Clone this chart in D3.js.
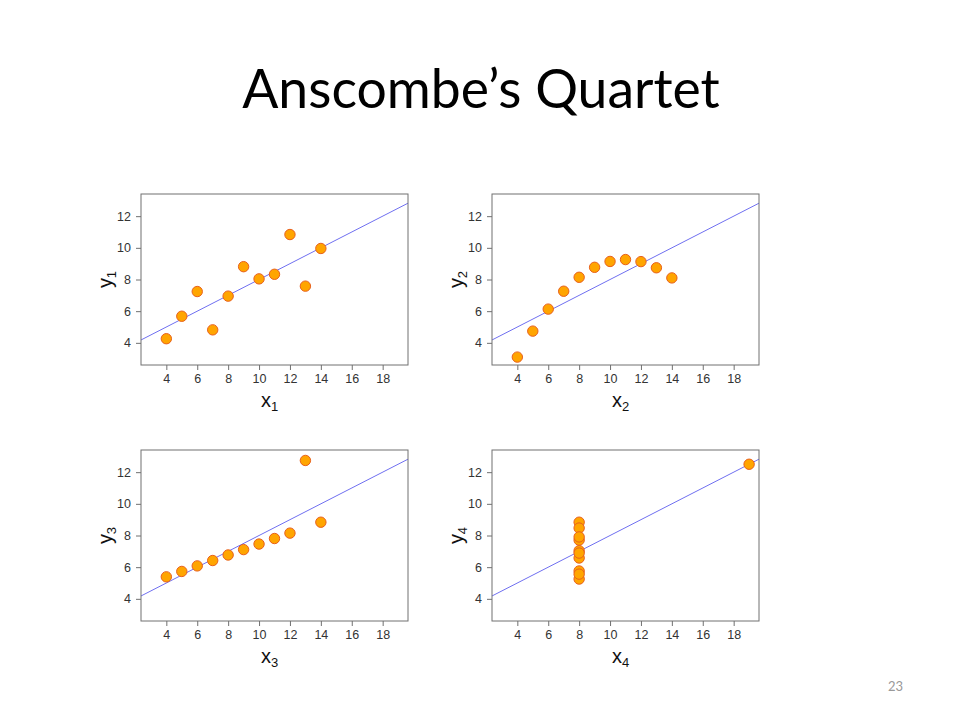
<!DOCTYPE html>
<html><head><meta charset="utf-8">
<script src="https://cdn.jsdelivr.net/npm/d3@7"></script>
<style>body{margin:0;background:#fff;} svg{display:block;}</style>
</head><body>
<script>
const xs123 = [10, 8, 13, 9, 11, 14, 6, 4, 12, 7, 5];
const x4 = [8, 8, 8, 8, 8, 8, 8, 19, 8, 8, 8];
const y1 = [8.04, 6.95, 7.58, 8.81, 8.33, 9.96, 7.24, 4.26, 10.84, 4.82, 5.68];
const y2 = [9.14, 8.14, 8.74, 8.77, 9.26, 8.10, 6.13, 3.10, 9.13, 7.26, 4.74];
const y3 = [7.46, 6.77, 12.74, 7.11, 7.81, 8.84, 6.08, 5.39, 8.15, 6.42, 5.73];
const y4 = [6.58, 5.76, 7.71, 8.84, 8.47, 7.04, 5.25, 12.50, 5.56, 7.91, 6.89];
const fitIntercepts = [3.0, 3.0, 3.0, 3.0];
const fitSlopes = [0.5, 0.5, 0.5, 0.5];
const xTicks = [4, 6, 8, 10, 12, 14, 16, 18];
const yTicks = [4, 6, 8, 10, 12];
const panelSubs = ["1", "2", "3", "4"];
const title = "Anscombe’s Quartet";
const pageNumber = "23";

const W = 960, H = 720;
const svg = d3.select("body").append("svg").attr("width", W).attr("height", H);

svg.append("text").attr("x", 481).attr("y", 108).attr("text-anchor", "middle")
  .attr("font-family", "Lato, 'Open Sans', sans-serif").attr("font-size", 53.5)
  .attr("fill", "#000").text(title);
svg.append("text").attr("x", 903).attr("y", 691).attr("text-anchor", "end")
  .attr("font-family", "Lato, 'Open Sans', sans-serif").attr("font-size", 13)
  .attr("fill", "#999").text(pageNumber);

const panels = [
  {xs: xs123, ys: y1, left: 141, top: 194},
  {xs: xs123, ys: y2, left: 492, top: 194},
  {xs: xs123, ys: y3, left: 141, top: 450},
  {xs: x4, ys: y4, left: 492, top: 450}
];
const pw = 267, ph = 171;
const xDom = [3 - 0.64, 19 + 0.64];
const yDom = [3 - 0.4, 13 + 0.4];

panels.forEach((p, i) => {
  const g = svg.append("g").attr("transform", `translate(${p.left},${p.top})`);
  const x = d3.scaleLinear().domain(xDom).range([0, pw]);
  const y = d3.scaleLinear().domain(yDom).range([ph, 0]);
  const clipId = "clip" + i;
  g.append("clipPath").attr("id", clipId).append("rect").attr("width", pw).attr("height", ph);

  // regression line
  const a = fitIntercepts[i], b = fitSlopes[i];
  g.append("line").attr("clip-path", `url(#${clipId})`)
    .attr("x1", x(xDom[0])).attr("y1", y(a + b * xDom[0]))
    .attr("x2", x(xDom[1])).attr("y2", y(a + b * xDom[1]))
    .attr("stroke", "#6f6ff0").attr("stroke-width", 1);

  // points
  g.selectAll("circle").data(p.xs.map((v, k) => [v, p.ys[k]])).join("circle")
    .attr("cx", d => x(d[0])).attr("cy", d => y(d[1])).attr("r", 5.2)
    .attr("fill", "#ffa500").attr("stroke", "#e8601c").attr("stroke-width", 1);

  // box
  g.append("rect").attr("width", pw).attr("height", ph)
    .attr("fill", "none").attr("stroke", "#707070").attr("stroke-width", 1);

  const xa = g.append("g").attr("transform", `translate(0,${ph})`)
    .call(d3.axisBottom(x).tickValues(xTicks).tickSize(5).tickPadding(4).tickSizeOuter(0));
  const ya = g.append("g")
    .call(d3.axisLeft(y).tickValues(yTicks).tickSize(5).tickPadding(5).tickSizeOuter(0));
  [xa, ya].forEach(ax => {
    ax.select(".domain").remove();
    ax.selectAll("line").attr("stroke", "#707070");
    ax.selectAll("text").attr("font-family", "'Liberation Sans', Arial, sans-serif")
      .attr("font-size", 12.5).attr("fill", "#333");
  });

  const xl = g.append("text").attr("x", pw / 2 - 5).attr("y", ph + 42)
    .attr("text-anchor", "middle").attr("font-family", "'Liberation Sans', Arial, sans-serif")
    .attr("font-size", 20).attr("fill", "#111");
  xl.append("tspan").text("x");
  xl.append("tspan").attr("font-size", 13).attr("dy", 4).text(panelSubs[i]);

  const yl = g.append("text").attr("transform", `translate(-29,${ph / 2}) rotate(-90)`)
    .attr("text-anchor", "middle").attr("font-family", "'Liberation Sans', Arial, sans-serif")
    .attr("font-size", 20).attr("fill", "#111");
  yl.append("tspan").text("y");
  yl.append("tspan").attr("font-size", 13).attr("dy", 4).text(panelSubs[i]);
});
</script>
</body></html>
